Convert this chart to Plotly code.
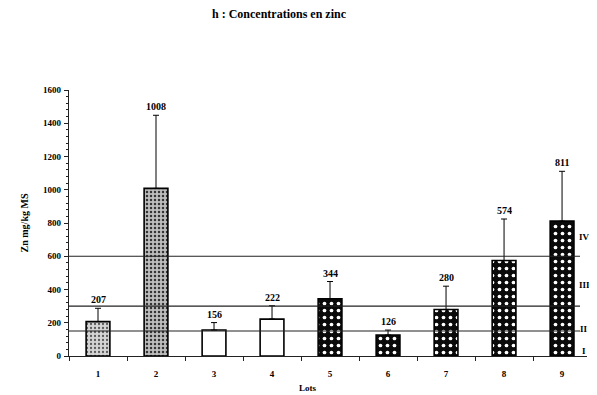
import plotly.graph_objects as go

lots = [1, 2, 3, 4, 5, 6, 7, 8, 9]
zn_mean = [207, 1008, 156, 222, 344, 126, 280, 574, 811]
zn_err = [80, 440, 45, 80, 104, 30, 140, 250, 300]
tick_labels = ["1", "2", "3", "4", "5", "6", "7", "8", "9"]
class_limits = [150, 300, 600]
class_labels = ["I", "II", "III", "IV"]
class_label_y = [30, 165, 430, 715]

FONT = "Liberation Serif"
W, H = 597, 395
OFF = 8  # page body margin offset

stipple_light = dict(shape=".", bgcolor="#d4d4d4", fgcolor="#5a5a5a", size=4, solidity=0.25, fgopacity=1)
stipple_dark = dict(shape=".", bgcolor="#bdbdbd", fgcolor="#333333", size=4, solidity=0.3, fgopacity=1)
plain = None
dotted = dict(shape=".", bgcolor="#0a0a0a", fgcolor="#ffffff", size=7, solidity=0.22, fgopacity=1)

styles = [stipple_light, stipple_dark, plain, plain, dotted, dotted, dotted, dotted, dotted]
fill_colors = ["#d4d4d4", "#bdbdbd", "white", "white", "#0a0a0a", "#0a0a0a", "#0a0a0a", "#0a0a0a", "#0a0a0a"]

fig = go.Figure()
for i in range(len(lots)):
    marker = dict(color=fill_colors[i], line=dict(color="black", width=1.6))
    if styles[i] is not None:
        marker["pattern"] = dict(styles[i])
    fig.add_trace(go.Bar(
        x=[lots[i]], y=[zn_mean[i]], width=0.41,
        marker=marker,
        error_y=dict(type="data", symmetric=False, array=[zn_err[i]], arrayminus=[0],
                     color="black", thickness=1, width=3),
        showlegend=False,
    ))

# class limit lines
for v in class_limits:
    fig.add_shape(type="line", xref="x", yref="y", x0=0.5, x1=9.31, y0=v, y1=v,
                  line=dict(color="#222", width=1.1), layer="above")

for lab, yy in zip(class_labels, class_label_y):
    fig.add_annotation(x=9.38, y=yy, xref="x", yref="y", text="<b>%s</b>" % lab,
                       showarrow=False, font=dict(family=FONT, size=9, color="black"))

# value labels
for x, m, e in zip(lots, zn_mean, zn_err):
    fig.add_annotation(x=x, y=m + e, xref="x", yref="y", text="<b>%d</b>" % m,
                       showarrow=False, yanchor="bottom", yshift=1,
                       font=dict(family=FONT, size=10, color="black"))

# plot area in page pixels: x 69..587, y 90..356
PL, PR, PT, PB = 69, 587, 90, 356
fig.add_annotation(x=(308 - PL) / (PR - PL), y=(PB - 388) / (PB - PT), xref="paper", yref="paper",
                   text="<b>Lots</b>", showarrow=False, yanchor="middle",
                   font=dict(family=FONT, size=9, color="black"))

fig.update_layout(
    width=W, height=H,
    margin=dict(l=PL - OFF, r=W - (PR - OFF), t=PT - OFF, b=H - (PB - OFF)),
    paper_bgcolor="white", plot_bgcolor="white",
    font=dict(family=FONT, size=9, color="black"),
    title=dict(text="<b>h : Concentrations en zinc</b>", x=(279 - OFF) / W, xanchor="center",
               xref="container", y=1 - (14 - OFF) / H, yanchor="middle", yref="container",
               font=dict(family=FONT, size=12, color="black")),
)

fig.update_xaxes(
    range=[0.5, 9.43], tickmode="array", tickvals=lots, ticktext=["<b>%s</b>" % t for t in tick_labels],
    ticks="", showline=True, linecolor="#222", linewidth=1.2, showgrid=False, zeroline=False,
    tickfont=dict(family=FONT, size=9), ticklabelstandoff=9,
    minor=dict(tickmode="linear", tick0=0.5, dtick=1, ticks="outside", ticklen=4, tickcolor="#222"),
)
fig.update_yaxes(
    range=[0, 1600], tickmode="linear", tick0=0, dtick=200,
    ticks="outside", ticklen=4, tickcolor="#222",
    tickformat="d", tickprefix="<b>", ticksuffix="</b>",
    showline=True, linecolor="#222", linewidth=1.2, showgrid=False, zeroline=False,
    tickfont=dict(family=FONT, size=9), ticklabelstandoff=1,
    title=dict(text="<b>Zn mg/kg MS</b>", font=dict(family=FONT, size=10), standoff=12),
    minor=dict(tickmode="linear", tick0=0, dtick=40, ticks="outside", ticklen=2, tickcolor="#222"),
)

fig.write_html("out.html")
